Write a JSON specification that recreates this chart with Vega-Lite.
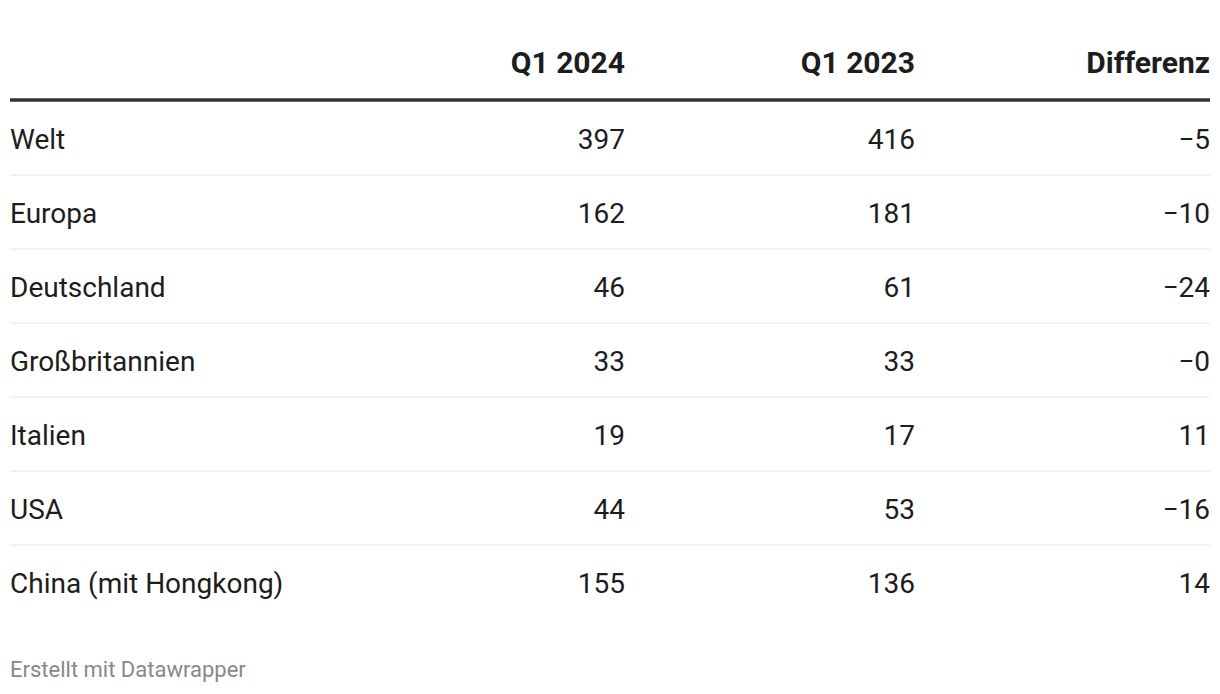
{
  "$schema": "https://vega.github.io/schema/vega-lite/v6.json",
  "width": 1200,
  "height": 694,
  "autosize": {"type": "none"},
  "padding": {"left": 10, "right": 10, "top": 0, "bottom": 0},
  "background": "#ffffff",
  "config": {"view": {"stroke": null}, "font": "Roboto"},
  "datasets": {
    "rows": [
      {"row": 0, "land": "Welt", "q2024": 397, "q2023": 416, "diff": "−5"},
      {"row": 1, "land": "Europa", "q2024": 162, "q2023": 181, "diff": "−10"},
      {"row": 2, "land": "Deutschland", "q2024": 46, "q2023": 61, "diff": "−24"},
      {"row": 3, "land": "Großbritannien", "q2024": 33, "q2023": 33, "diff": "−0"},
      {"row": 4, "land": "Italien", "q2024": 19, "q2023": 17, "diff": "11"},
      {"row": 5, "land": "USA", "q2024": 44, "q2023": 53, "diff": "−16"},
      {"row": 6, "land": "China (mit Hongkong)", "q2024": 155, "q2023": 136, "diff": "14"}
    ],
    "header": [{"row": -1, "h2024": "Q1 2024", "h2023": "Q1 2023", "hdiff": "Differenz"}],
    "separators": [{"row": 0}, {"row": 1}, {"row": 2}, {"row": 3}, {"row": 4}, {"row": 5}],
    "footer": [{"row": 7, "note": "Erstellt mit Datawrapper"}]
  },
  "encoding": {
    "y": {
      "field": "row",
      "type": "quantitative",
      "axis": null,
      "scale": {"domain": [-2.0, 7.378], "reverse": true, "zero": false, "nice": false}
    }
  },
  "layer": [
    {
      "data": {"name": "separators"},
      "mark": {"type": "rule", "stroke": "#e6e6e6", "strokeWidth": 1, "yOffset": 27}
    },
    {
      "data": {"name": "header"},
      "mark": {"type": "rule", "stroke": "#333333", "strokeWidth": 3.5, "yOffset": 26}
    },
    {
      "data": {"name": "rows"},
      "mark": {"type": "text", "align": "left", "baseline": "alphabetic", "font": "Roboto", "fontSize": 28, "color": "#1d1d1d", "yOffset": 1},
      "encoding": {
        "x": {"datum": 0, "type": "quantitative", "axis": null, "scale": {"domain": [0, 1, 2, 3], "range": [0, 615, 905, 1200], "zero": false, "nice": false}},
        "text": {"field": "land"}
      }
    },
    {
      "data": {"name": "rows"},
      "mark": {"type": "text", "align": "right", "baseline": "alphabetic", "font": "Roboto", "fontSize": 28, "color": "#1d1d1d", "yOffset": 1},
      "encoding": {
        "x": {"datum": 1, "type": "quantitative", "axis": null, "scale": {"domain": [0, 1, 2, 3], "range": [0, 615, 905, 1200], "zero": false, "nice": false}},
        "text": {"field": "q2024"}
      }
    },
    {
      "data": {"name": "rows"},
      "mark": {"type": "text", "align": "right", "baseline": "alphabetic", "font": "Roboto", "fontSize": 28, "color": "#1d1d1d", "yOffset": 1},
      "encoding": {
        "x": {"datum": 2, "type": "quantitative", "axis": null, "scale": {"domain": [0, 1, 2, 3], "range": [0, 615, 905, 1200], "zero": false, "nice": false}},
        "text": {"field": "q2023"}
      }
    },
    {
      "data": {"name": "rows"},
      "mark": {"type": "text", "align": "right", "baseline": "alphabetic", "font": "Roboto", "fontSize": 28, "color": "#1d1d1d", "yOffset": 1},
      "encoding": {
        "x": {"datum": 3, "type": "quantitative", "axis": null, "scale": {"domain": [0, 1, 2, 3], "range": [0, 615, 905, 1200], "zero": false, "nice": false}},
        "text": {"field": "diff"}
      }
    },
    {
      "data": {"name": "header"},
      "mark": {"type": "text", "align": "right", "baseline": "alphabetic", "font": "Roboto", "fontSize": 30, "fontWeight": "bold", "color": "#1d1d1d", "yOffset": -1},
      "encoding": {
        "x": {"datum": 1, "type": "quantitative", "axis": null, "scale": {"domain": [0, 1, 2, 3], "range": [0, 615, 905, 1200], "zero": false, "nice": false}},
        "text": {"field": "h2024"}
      }
    },
    {
      "data": {"name": "header"},
      "mark": {"type": "text", "align": "right", "baseline": "alphabetic", "font": "Roboto", "fontSize": 30, "fontWeight": "bold", "color": "#1d1d1d", "yOffset": -1},
      "encoding": {
        "x": {"datum": 2, "type": "quantitative", "axis": null, "scale": {"domain": [0, 1, 2, 3], "range": [0, 615, 905, 1200], "zero": false, "nice": false}},
        "text": {"field": "h2023"}
      }
    },
    {
      "data": {"name": "header"},
      "mark": {"type": "text", "align": "right", "baseline": "alphabetic", "font": "Roboto", "fontSize": 30, "fontWeight": "bold", "color": "#1d1d1d", "yOffset": -1},
      "encoding": {
        "x": {"datum": 3, "type": "quantitative", "axis": null, "scale": {"domain": [0, 1, 2, 3], "range": [0, 615, 905, 1200], "zero": false, "nice": false}},
        "text": {"field": "hdiff"}
      }
    },
    {
      "data": {"name": "footer"},
      "mark": {"type": "text", "align": "left", "baseline": "alphabetic", "font": "Roboto", "fontSize": 22, "color": "#888888", "yOffset": 11},
      "encoding": {
        "x": {"datum": 0, "type": "quantitative", "axis": null, "scale": {"domain": [0, 1, 2, 3], "range": [0, 615, 905, 1200], "zero": false, "nice": false}},
        "text": {"field": "note"}
      }
    }
  ]
}
